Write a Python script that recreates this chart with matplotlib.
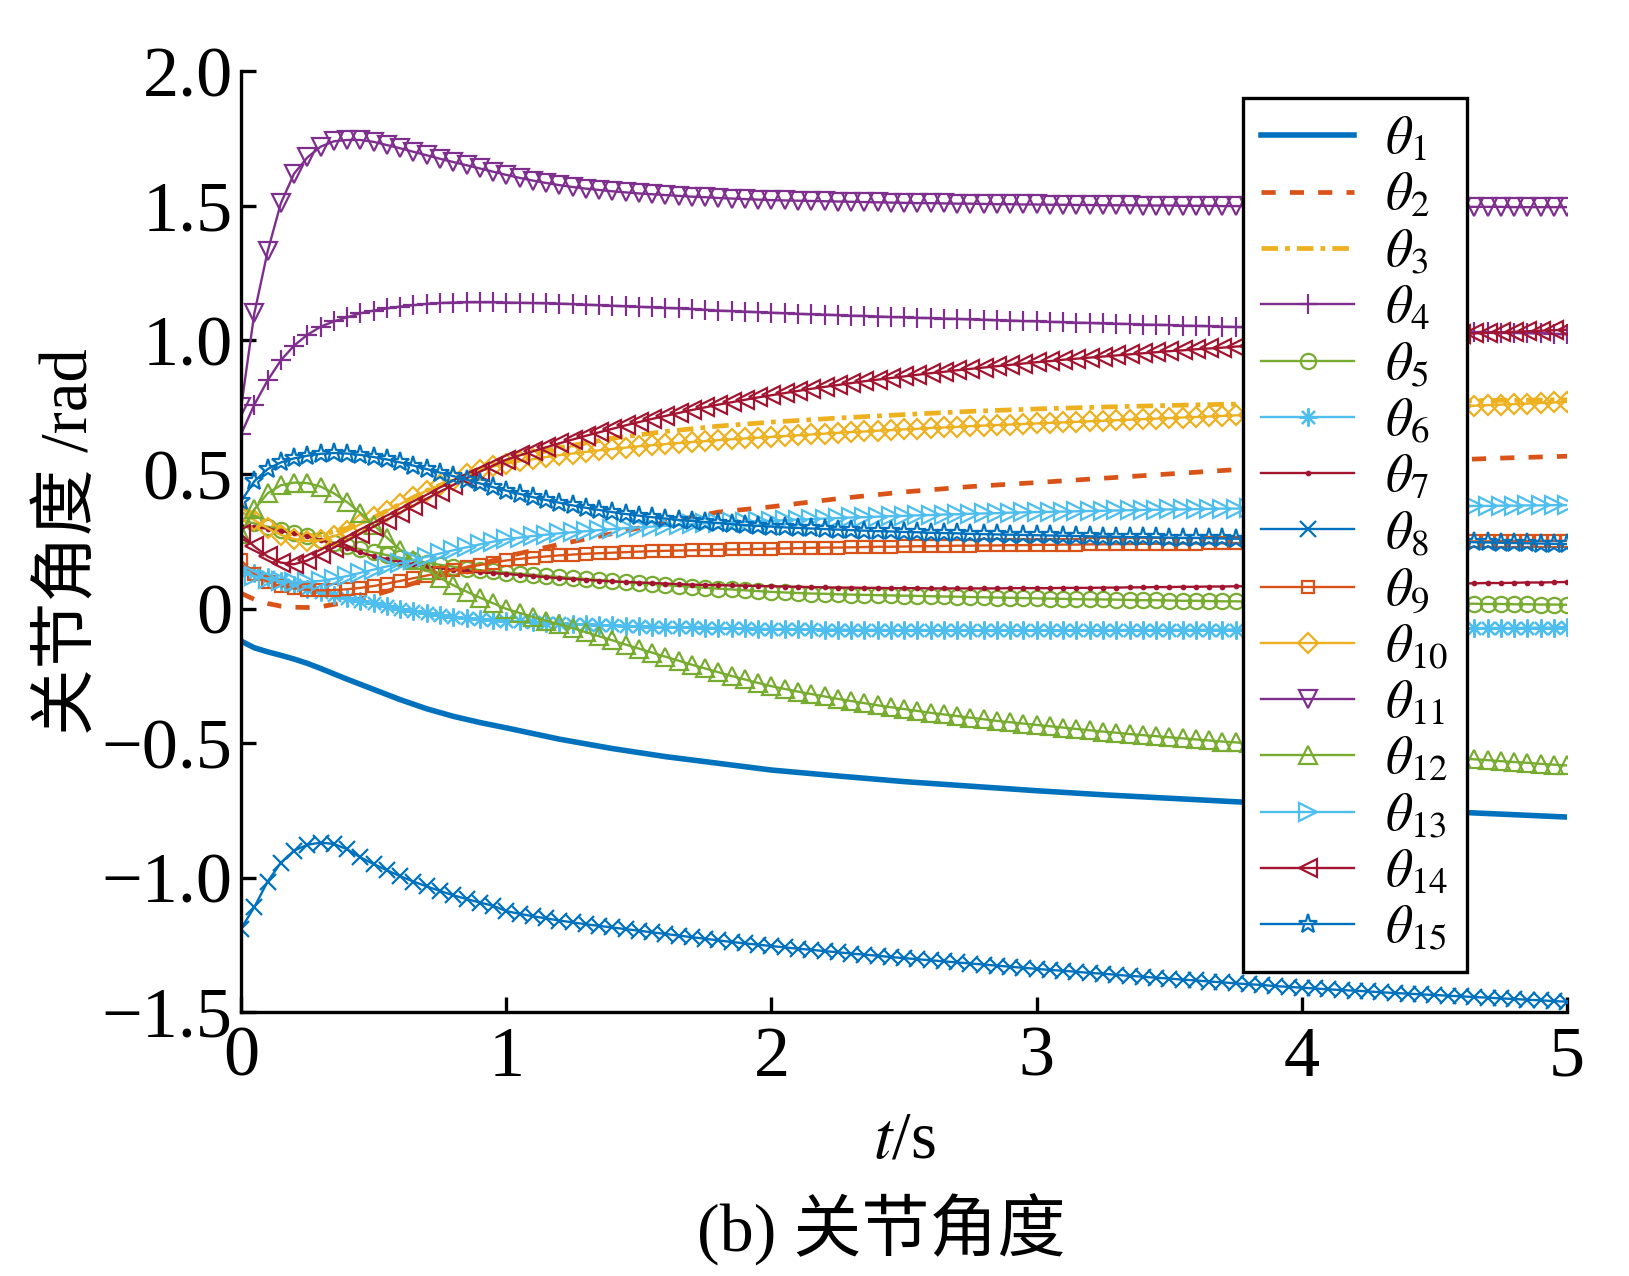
import numpy as np
import matplotlib
matplotlib.use('Agg')
import matplotlib.pyplot as plt

plt.rcParams['font.family'] = ['Liberation Serif', 'Noto Sans CJK SC']
plt.rcParams['mathtext.fontset'] = 'stix'

# time axis for the plain lines (theta1..theta3)
t_line = [0, 0.05, 0.1, 0.15, 0.2, 0.25, 0.3, 0.4, 0.5, 0.6, 0.7, 0.8, 0.9, 1.0,
          1.2, 1.4, 1.6, 1.8, 2.0, 2.25, 2.5, 2.75, 3.0, 3.25, 3.5, 3.75, 4.0,
          4.25, 4.5, 4.75, 5.0]

theta1 = [-0.120, -0.145, -0.160, -0.173, -0.187, -0.203, -0.222, -0.262, -0.300,
          -0.338, -0.372, -0.400, -0.423, -0.443, -0.485, -0.520, -0.550, -0.575,
          -0.600, -0.622, -0.643, -0.660, -0.677, -0.692, -0.705, -0.718, -0.729,
          -0.741, -0.753, -0.764, -0.775]
theta2 = [0.058, 0.035, 0.020, 0.010, 0.006, 0.005, 0.008, 0.025, 0.050, 0.080,
          0.110, 0.138, 0.165, 0.195, 0.240, 0.280, 0.322, 0.360, 0.380, 0.410,
          0.435, 0.455, 0.470, 0.486, 0.502, 0.518, 0.531, 0.542, 0.552, 0.561,
          0.568]
theta3 = [0.380, 0.350, 0.320, 0.297, 0.280, 0.272, 0.275, 0.300, 0.340, 0.390,
          0.440, 0.480, 0.520, 0.550, 0.600, 0.635, 0.660, 0.680, 0.695, 0.710,
          0.723, 0.735, 0.744, 0.751, 0.757, 0.762, 0.766, 0.770, 0.773, 0.776,
          0.778]

# time axis for the marker series: 0, 0.05, ..., 5.0
t_mark = [i * 0.05 for i in range(101)]

theta4 = [0.650, 0.760, 0.850, 0.925, 0.980, 1.020, 1.050, 1.070, 1.085, 1.100,
          1.110, 1.118, 1.125, 1.130, 1.135, 1.138, 1.140, 1.141, 1.141, 1.141,
          1.140, 1.139, 1.138, 1.137, 1.136, 1.134, 1.132, 1.130, 1.128, 1.126,
          1.124, 1.122, 1.120, 1.118, 1.116, 1.113, 1.110, 1.108, 1.106, 1.104,
          1.102, 1.100, 1.098, 1.096, 1.095, 1.093, 1.091, 1.090, 1.088, 1.086,
          1.085, 1.083, 1.082, 1.080, 1.079, 1.077, 1.076, 1.074, 1.073, 1.071,
          1.070, 1.068, 1.067, 1.065, 1.064, 1.062, 1.061, 1.060, 1.058, 1.057,
          1.056, 1.054, 1.053, 1.052, 1.050, 1.049, 1.048, 1.046, 1.045, 1.044,
          1.043, 1.042, 1.041, 1.040, 1.039, 1.038, 1.037, 1.036, 1.035, 1.034,
          1.033, 1.032, 1.031, 1.030, 1.029, 1.028, 1.027, 1.026, 1.025, 1.023,
          1.022]
theta5 = [0.330, 0.318, 0.306, 0.294, 0.282, 0.270, 0.258, 0.246, 0.234, 0.222,
          0.210, 0.200, 0.190, 0.181, 0.172, 0.164, 0.157, 0.150, 0.144, 0.139,
          0.135, 0.131, 0.127, 0.123, 0.119, 0.115, 0.111, 0.107, 0.103, 0.099,
          0.095, 0.092, 0.088, 0.085, 0.082, 0.078, 0.075, 0.072, 0.069, 0.066,
          0.063, 0.061, 0.059, 0.057, 0.056, 0.054, 0.053, 0.052, 0.051, 0.050,
          0.049, 0.048, 0.047, 0.046, 0.045, 0.044, 0.043, 0.042, 0.041, 0.040,
          0.039, 0.038, 0.037, 0.036, 0.035, 0.035, 0.034, 0.033, 0.032, 0.032,
          0.031, 0.030, 0.030, 0.029, 0.028, 0.028, 0.027, 0.027, 0.026, 0.026,
          0.025, 0.025, 0.024, 0.024, 0.023, 0.023, 0.022, 0.022, 0.021, 0.021,
          0.020, 0.020, 0.019, 0.019, 0.018, 0.018, 0.017, 0.017, 0.016, 0.016,
          0.015]
theta6 = [0.150, 0.135, 0.120, 0.103, 0.088, 0.075, 0.062, 0.051, 0.040, 0.030,
          0.020, 0.010, 0.001, -0.008, -0.016, -0.023, -0.029, -0.034, -0.038, -0.041,
          -0.044, -0.047, -0.050, -0.052, -0.054, -0.056, -0.058, -0.060, -0.062, -0.063,
          -0.065, -0.066, -0.067, -0.068, -0.069, -0.070, -0.071, -0.072, -0.073, -0.074,
          -0.075, -0.075, -0.076, -0.076, -0.077, -0.077, -0.078, -0.078, -0.078, -0.079,
          -0.079, -0.079, -0.079, -0.080, -0.080, -0.080, -0.080, -0.080, -0.080, -0.080,
          -0.080, -0.080, -0.080, -0.080, -0.079, -0.079, -0.079, -0.079, -0.079, -0.078,
          -0.078, -0.078, -0.078, -0.078, -0.077, -0.077, -0.077, -0.077, -0.076, -0.076,
          -0.076, -0.076, -0.075, -0.075, -0.075, -0.074, -0.074, -0.074, -0.073, -0.073,
          -0.073, -0.072, -0.072, -0.072, -0.071, -0.071, -0.071, -0.070, -0.070, -0.070,
          -0.069]
theta7 = [0.310, 0.305, 0.298, 0.290, 0.282, 0.270, 0.256, 0.240, 0.225, 0.210,
          0.196, 0.185, 0.175, 0.166, 0.158, 0.151, 0.145, 0.140, 0.136, 0.133,
          0.130, 0.126, 0.122, 0.118, 0.114, 0.111, 0.108, 0.105, 0.102, 0.100,
          0.098, 0.096, 0.094, 0.092, 0.090, 0.089, 0.088, 0.087, 0.086, 0.085,
          0.084, 0.083, 0.082, 0.081, 0.080, 0.079, 0.079, 0.078, 0.078, 0.077,
          0.077, 0.077, 0.076, 0.076, 0.076, 0.076, 0.076, 0.076, 0.077, 0.077,
          0.077, 0.077, 0.078, 0.078, 0.078, 0.079, 0.079, 0.080, 0.080, 0.081,
          0.081, 0.082, 0.082, 0.083, 0.083, 0.084, 0.084, 0.085, 0.085, 0.086,
          0.086, 0.087, 0.088, 0.088, 0.089, 0.090, 0.090, 0.091, 0.092, 0.092,
          0.093, 0.094, 0.094, 0.095, 0.096, 0.096, 0.097, 0.098, 0.098, 0.099,
          0.100]
theta8 = [-1.190, -1.110, -1.015, -0.945, -0.900, -0.878, -0.870, -0.875, -0.895, -0.925,
          -0.950, -0.973, -0.995, -1.015, -1.033, -1.050, -1.066, -1.080, -1.093, -1.105,
          -1.125, -1.135, -1.144, -1.152, -1.160, -1.167, -1.174, -1.180, -1.186, -1.192,
          -1.198, -1.204, -1.210, -1.216, -1.222, -1.228, -1.234, -1.240, -1.245, -1.250,
          -1.255, -1.260, -1.265, -1.269, -1.274, -1.278, -1.283, -1.287, -1.291, -1.296,
          -1.300, -1.304, -1.308, -1.312, -1.316, -1.320, -1.324, -1.328, -1.332, -1.336,
          -1.340, -1.344, -1.347, -1.351, -1.355, -1.358, -1.362, -1.366, -1.369, -1.373,
          -1.376, -1.380, -1.383, -1.387, -1.390, -1.394, -1.397, -1.400, -1.404, -1.407,
          -1.410, -1.413, -1.416, -1.419, -1.421, -1.424, -1.427, -1.430, -1.432, -1.435,
          -1.437, -1.440, -1.442, -1.445, -1.447, -1.450, -1.452, -1.455, -1.457, -1.460,
          -1.462]
theta9 = [0.180, 0.130, 0.100, 0.085, 0.076, 0.071, 0.069, 0.070, 0.073, 0.078,
          0.085, 0.094, 0.104, 0.114, 0.124, 0.134, 0.144, 0.154, 0.163, 0.172,
          0.180, 0.186, 0.191, 0.195, 0.199, 0.202, 0.205, 0.207, 0.209, 0.211,
          0.213, 0.215, 0.216, 0.217, 0.218, 0.219, 0.220, 0.221, 0.222, 0.223,
          0.224, 0.225, 0.226, 0.227, 0.228, 0.228, 0.229, 0.230, 0.231, 0.231,
          0.232, 0.233, 0.233, 0.234, 0.235, 0.235, 0.236, 0.236, 0.237, 0.237,
          0.238, 0.238, 0.239, 0.239, 0.240, 0.240, 0.241, 0.241, 0.242, 0.242,
          0.243, 0.243, 0.243, 0.244, 0.244, 0.245, 0.245, 0.245, 0.246, 0.246,
          0.247, 0.247, 0.247, 0.248, 0.248, 0.248, 0.249, 0.249, 0.249, 0.250,
          0.250, 0.250, 0.251, 0.251, 0.251, 0.252, 0.252, 0.252, 0.253, 0.253,
          0.253]
theta10 = [0.360, 0.330, 0.300, 0.275, 0.260, 0.252, 0.255, 0.270, 0.290, 0.315,
           0.340, 0.365, 0.390, 0.415, 0.440, 0.460, 0.480, 0.500, 0.515, 0.530,
           0.540, 0.549, 0.557, 0.565, 0.572, 0.578, 0.584, 0.590, 0.595, 0.600,
           0.605, 0.609, 0.613, 0.617, 0.621, 0.624, 0.628, 0.631, 0.634, 0.637,
           0.640, 0.643, 0.646, 0.649, 0.652, 0.655, 0.658, 0.660, 0.663, 0.665,
           0.668, 0.670, 0.673, 0.675, 0.677, 0.680, 0.682, 0.684, 0.686, 0.688,
           0.690, 0.692, 0.694, 0.696, 0.698, 0.700, 0.702, 0.704, 0.706, 0.708,
           0.710, 0.712, 0.714, 0.716, 0.718, 0.720, 0.722, 0.724, 0.726, 0.728,
           0.730, 0.732, 0.734, 0.736, 0.738, 0.740, 0.742, 0.744, 0.746, 0.748,
           0.750, 0.752, 0.754, 0.756, 0.758, 0.760, 0.762, 0.764, 0.766, 0.768,
           0.770]
theta11 = [0.750, 1.100, 1.330, 1.510, 1.620, 1.680, 1.720, 1.740, 1.745, 1.745,
           1.738, 1.726, 1.714, 1.701, 1.688, 1.675, 1.663, 1.651, 1.639, 1.627,
           1.615, 1.604, 1.594, 1.585, 1.577, 1.570, 1.564, 1.559, 1.554, 1.550,
           1.546, 1.543, 1.540, 1.537, 1.534, 1.532, 1.529, 1.527, 1.525, 1.523,
           1.521, 1.520, 1.519, 1.518, 1.517, 1.516, 1.515, 1.514, 1.513, 1.512,
           1.511, 1.510, 1.510, 1.509, 1.508, 1.508, 1.507, 1.506, 1.506, 1.505,
           1.505, 1.504, 1.504, 1.503, 1.503, 1.502, 1.502, 1.502, 1.501, 1.501,
           1.501, 1.500, 1.500, 1.500, 1.499, 1.499, 1.499, 1.499, 1.498, 1.498,
           1.498, 1.498, 1.498, 1.497, 1.497, 1.497, 1.497, 1.497, 1.497, 1.496,
           1.496, 1.496, 1.496, 1.496, 1.496, 1.496, 1.495, 1.495, 1.495, 1.495,
           1.495]
theta12 = [0.280, 0.370, 0.430, 0.460, 0.470, 0.468, 0.455, 0.430, 0.397, 0.357,
           0.312, 0.265, 0.220, 0.180, 0.145, 0.115, 0.088, 0.064, 0.042, 0.021,
           0.000, -0.015, -0.030, -0.044, -0.058, -0.072, -0.087, -0.102, -0.117, -0.133,
           -0.148, -0.163, -0.178, -0.193, -0.208, -0.222, -0.236, -0.250, -0.263, -0.276,
           -0.288, -0.298, -0.308, -0.317, -0.326, -0.335, -0.343, -0.351, -0.359, -0.366,
           -0.373, -0.380, -0.387, -0.393, -0.399, -0.405, -0.411, -0.417, -0.422, -0.427,
           -0.432, -0.437, -0.442, -0.447, -0.452, -0.457, -0.461, -0.466, -0.470, -0.474,
           -0.478, -0.482, -0.486, -0.490, -0.494, -0.497, -0.501, -0.505, -0.508, -0.512,
           -0.515, -0.519, -0.522, -0.526, -0.529, -0.533, -0.536, -0.540, -0.543, -0.547,
           -0.550, -0.553, -0.557, -0.560, -0.563, -0.567, -0.570, -0.573, -0.577, -0.580,
           -0.583]
theta13 = [0.133, 0.122, 0.112, 0.104, 0.100, 0.100, 0.104, 0.112, 0.122, 0.134,
           0.146, 0.158, 0.170, 0.182, 0.194, 0.206, 0.218, 0.229, 0.240, 0.250,
           0.259, 0.265, 0.271, 0.276, 0.281, 0.285, 0.289, 0.293, 0.297, 0.300,
           0.303, 0.306, 0.309, 0.312, 0.315, 0.318, 0.320, 0.322, 0.324, 0.326,
           0.328, 0.330, 0.332, 0.334, 0.336, 0.338, 0.340, 0.341, 0.343, 0.345,
           0.346, 0.348, 0.349, 0.351, 0.352, 0.354, 0.355, 0.356, 0.358, 0.359,
           0.360, 0.361, 0.362, 0.363, 0.364, 0.365, 0.366, 0.367, 0.368, 0.369,
           0.370, 0.370, 0.371, 0.372, 0.373, 0.373, 0.374, 0.375, 0.375, 0.376,
           0.376, 0.377, 0.377, 0.378, 0.378, 0.379, 0.379, 0.380, 0.380, 0.381,
           0.381, 0.382, 0.382, 0.383, 0.383, 0.384, 0.384, 0.385, 0.385, 0.386,
           0.386]
theta14 = [0.277, 0.232, 0.195, 0.172, 0.166, 0.180, 0.203, 0.228, 0.254, 0.280,
           0.306, 0.332, 0.358, 0.384, 0.410, 0.436, 0.461, 0.486, 0.510, 0.533,
           0.555, 0.571, 0.586, 0.601, 0.616, 0.630, 0.644, 0.657, 0.670, 0.683,
           0.695, 0.707, 0.718, 0.729, 0.740, 0.750, 0.760, 0.769, 0.778, 0.787,
           0.795, 0.803, 0.811, 0.819, 0.826, 0.833, 0.840, 0.847, 0.853, 0.859,
           0.865, 0.871, 0.877, 0.882, 0.888, 0.893, 0.898, 0.903, 0.908, 0.913,
           0.918, 0.922, 0.927, 0.931, 0.935, 0.939, 0.943, 0.947, 0.951, 0.955,
           0.959, 0.962, 0.966, 0.969, 0.972, 0.976, 0.979, 0.982, 0.985, 0.988,
           0.991, 0.994, 0.997, 1.000, 1.003, 1.005, 1.008, 1.010, 1.013, 1.015,
           1.018, 1.020, 1.022, 1.025, 1.027, 1.029, 1.031, 1.033, 1.035, 1.037,
           1.039]
theta15 = [0.400, 0.475, 0.520, 0.545, 0.560, 0.570, 0.577, 0.580, 0.578, 0.573,
           0.565, 0.556, 0.545, 0.533, 0.520, 0.507, 0.494, 0.481, 0.467, 0.453,
           0.440, 0.428, 0.416, 0.405, 0.395, 0.385, 0.376, 0.368, 0.360, 0.353,
           0.347, 0.341, 0.336, 0.331, 0.327, 0.323, 0.319, 0.315, 0.312, 0.309,
           0.306, 0.303, 0.301, 0.299, 0.297, 0.295, 0.293, 0.291, 0.289, 0.288,
           0.286, 0.285, 0.283, 0.282, 0.281, 0.279, 0.278, 0.277, 0.276, 0.275,
           0.274, 0.273, 0.272, 0.271, 0.270, 0.269, 0.268, 0.267, 0.267, 0.266,
           0.265, 0.264, 0.264, 0.263, 0.262, 0.261, 0.261, 0.260, 0.259, 0.259,
           0.258, 0.257, 0.256, 0.256, 0.255, 0.254, 0.253, 0.253, 0.252, 0.251,
           0.250, 0.249, 0.249, 0.248, 0.247, 0.246, 0.245, 0.244, 0.243, 0.242,
           0.241]

yticks = [-1.5, -1.0, -0.5, 0, 0.5, 1.0, 1.5, 2.0]
ytick_labels = ['\u22121.5', '\u22121.0', '\u22120.5', '0', '0.5', '1.0', '1.5', '2.0']
xticks = [0, 1, 2, 3, 4, 5]

blue = '#0072BD'
orange = '#D95319'
yellow = '#EDB120'
purple = '#7E2F8E'
green = '#77AC30'
cyan = '#4DBEEE'
red = '#A2142F'

fig = plt.figure(figsize=(16.29, 12.76), dpi=100)
ax = fig.add_axes([0.148, 0.207, 0.814, 0.737])

ax.plot(t_line, theta1, color=blue, lw=4.0, label=r'$\theta_{1}$')
ax.plot(t_line, theta2, color=orange, lw=3.4, linestyle=(0, (3, 3)), label=r'$\theta_{2}$')
ax.plot(t_line, theta3, color=yellow, lw=3.4, linestyle=(0, (3.5, 1.5, 1, 1.5)), label=r'$\theta_{3}$')

marker_series = [theta4, theta5, theta6, theta7, theta8, theta9, theta10,
                 theta11, theta12, theta13, theta14, theta15]
colors = [purple, green, cyan, red, blue, orange, yellow, purple, green, cyan, red, blue]
markers = ['+', 'o', (8, 2, 0), '.', 'x', 's', 'D', 'v', '^', '>', '<', '*']
msizes = [14, 11, 13, 5, 12, 9, 10, 13, 13, 13, 13, 14]

for i, (ys, c, m, ms) in enumerate(zip(marker_series, colors, markers, msizes)):
    ax.plot(t_mark, ys, color=c, lw=1.7, marker=m, markersize=ms,
            markerfacecolor='none' if m != '.' else c, markeredgewidth=1.6,
            label=r'$\theta_{%d}$' % (i + 4))

ax.set_xlim(0, 5)
ax.set_ylim(-1.5, 2.0)
ax.set_xticks(xticks)
ax.set_yticks(yticks)
ax.set_yticklabels(ytick_labels)
for s in ['top', 'right']:
    ax.spines[s].set_visible(False)
for s in ['left', 'bottom']:
    ax.spines[s].set_linewidth(2.4)
ax.tick_params(direction='in', length=11, width=2.4, labelsize=52)
ax.tick_params(axis='x', pad=10)
ax.tick_params(axis='y', pad=6)

ax.set_ylabel('关节角度 /rad', fontsize=48, labelpad=0)
ax.set_xlabel('$t$/s', fontsize=48, labelpad=14)
fig.text(0.541, 0.036, '(b) 关节角度', fontsize=49, ha='center', va='center')

leg = ax.legend(loc='upper left', bbox_to_anchor=(0.763, 0.923),
                bbox_transform=fig.transFigure, fontsize=38, frameon=True,
                fancybox=False, edgecolor='black', framealpha=1,
                handlelength=1.75, handletextpad=0.6, labelspacing=0.15,
                borderpad=0.35, borderaxespad=0)
leg.get_frame().set_linewidth(2.4)

fig.savefig('out.png', dpi=100)
